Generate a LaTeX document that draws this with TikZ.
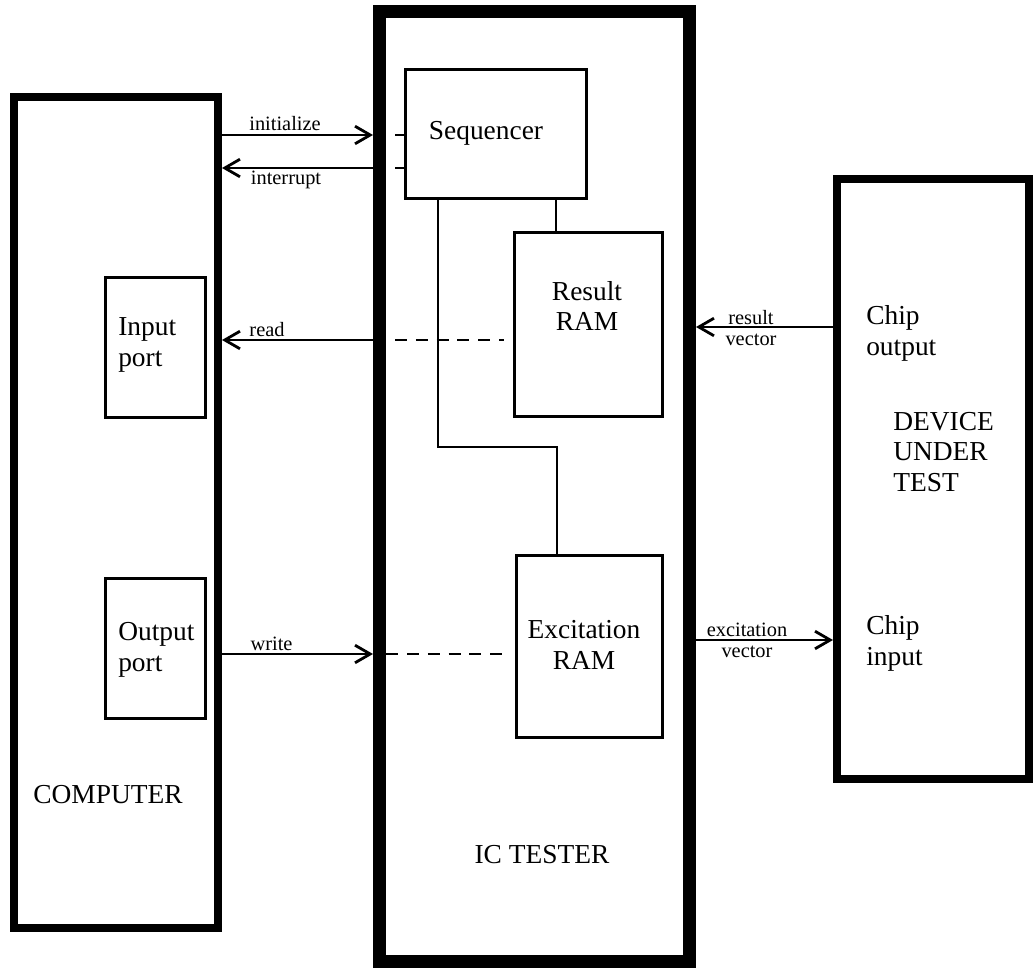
\documentclass[tikz,border=0pt]{standalone}
\usepackage{fontspec}
\setmainfont{Liberation Serif}
\usepackage{tikz}
\usetikzlibrary{arrows.meta,positioning,calc}

\begin{document}
\begin{tikzpicture}[
  >={Straight Barb[length=0.38cm,width=0.44cm]},
  heavy/.style={draw=black, line width=0.2cm, inner sep=0pt},
  tester/.style={draw=black, line width=0.325cm, inner sep=0pt},
  unit/.style={draw=black, line width=0.075cm, inner sep=0pt},
  txt/.style={font=\fontsize{19.5}{22}\selectfont, align=center, inner sep=0pt},
  lbl/.style={font=\fontsize{14.5}{15}\selectfont, align=center, inner sep=0pt},
  sig/.style={line width=0.07cm},
  bus/.style={line width=0.07cm, dash pattern=on 0.3cm off 0.22cm},
]
\useasboundingbox (0,0) rectangle (25.825,-24.275);

% ======================= Computer =======================
\node[heavy, minimum width=5.1cm, minimum height=20.775cm] (comp) at (2.9,-12.8125) {};
\node[unit, minimum width=2.5cm, minimum height=3.5cm] (inport) at (3.875,-8.675) {};
\node[unit, minimum width=2.5cm, minimum height=3.5cm] (outport) at (3.875,-16.2) {};
\node[txt, anchor=west, align=left] (inportT) at (2.95,-8.625) {Input\\port};
\node[txt, anchor=west, align=left] (outportT) at (2.95,-16.25) {Output\\port};
\node[txt] (compT) at (2.7,-19.875) {COMPUTER};

% ======================= IC tester =======================
\node[tester, minimum width=7.75cm, minimum height=23.75cm] (ic) at (13.3625,-12.1625) {};
\node[unit, minimum width=4.525cm, minimum height=3.225cm] (seq) at (12.3875,-3.3375) {};
\node[unit, minimum width=3.7cm, minimum height=4.6cm] (rram) at (14.7,-8.1) {};
\node[unit, minimum width=3.65cm, minimum height=4.55cm] (xram) at (14.725,-16.15) {};
\node[txt] (seqT) at (12.15,-3.325) {Sequencer};
\node[txt] (rramT) at (14.675,-7.65) {Result\\RAM};
\node[txt] (xramT) at (14.6,-16.125) {Excitation\\RAM};
\node[txt] (icT) at (13.55,-21.375) {IC TESTER};

% internal wiring
\coordinate (tapL) at (10.95,0);
\coordinate (tapR) at (13.9,0);
\coordinate (jog) at (13.925,-11.175);
\coordinate (stub) at (9.875,0);
\draw[sig] (tapR |- seq.south) -- (tapR |- rram.north);
\draw[sig] (tapL |- seq.south) |- (jog) -- (jog |- xram.north);

% ======================= Device under test =======================
\node[heavy, minimum width=4.8cm, minimum height=15cm] (dut) at (23.325,-11.975) {};
\node[txt, anchor=west, align=left] (dutT) at (22.325,-11.3) {DEVICE\\UNDER\\TEST};
\node[txt, anchor=west, align=left] (chipout) at (21.65,-8.325) {Chip\\output};
\node[txt, anchor=west, align=left] (chipin) at (21.65,-16.075) {Chip\\input};

% ======================= Signals =======================
\coordinate (init) at (0,-3.375);
\coordinate (intr) at (0,-4.2);
\coordinate (rd) at (0,-8.5);
\coordinate (wr) at (0,-16.35);
\coordinate (resv) at (0,-8.175);
\coordinate (excv) at (0,-16.0);

\draw[sig, ->] (comp.east |- init) -- (ic.west |- init);
\draw[sig, <-] (comp.east |- intr) -- (ic.west |- intr);
\draw[sig] (stub |- init) -- (seq.west |- init);
\draw[sig] (stub |- intr) -- (seq.west |- intr);
\node[lbl] (initT) at (7.125,-3.1) {initialize};
\node[lbl] (intrT) at (7.15,-4.5) {interrupt};

\draw[sig, <-] (comp.east |- rd) -- (ic.west |- rd);
\draw[bus, shorten >=0.22cm] (stub |- rd) -- (rram.west |- rd);
\node[lbl] (rdT) at (6.675,-8.25) {read};

\draw[sig, ->] (comp.east |- wr) -- (ic.west |- wr);
\draw[bus, shorten >=0.22cm] (ic.west |- wr) ++(0.33,0) -- (xram.west |- wr);
\node[lbl] (wrT) at (6.79,-16.1) {write};

\draw[sig, <-] (ic.east |- resv) -- (dut.west |- resv);
\node[lbl] (resvT) at (18.775,-8.2) {result\\vector};

\draw[sig, ->] (ic.east |- excv) -- (dut.west |- excv);
\node[lbl] (excvT) at (18.675,-16.0) {excitation\\vector};

\end{tikzpicture}
\end{document}
